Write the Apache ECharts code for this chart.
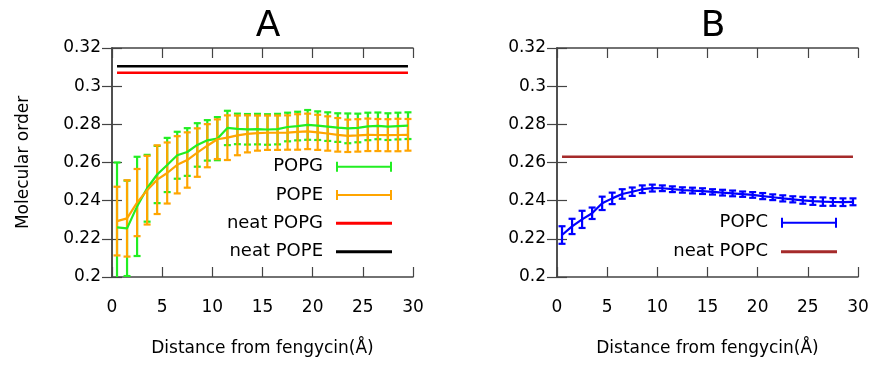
<!DOCTYPE html>
<html><head><meta charset="utf-8">
<script src="https://cdn.jsdelivr.net/npm/echarts@6/dist/echarts.min.js"></script>
<style>html,body{margin:0;padding:0;background:#fff}#c{width:877px;height:365px}</style>
</head><body><div id="c"></div>
<script>
// ---- data ----
const distance = [0.5,1.5,2.5,3.5,4.5,5.5,6.5,7.5,8.5,9.5,10.5,11.5,12.5,13.5,14.5,15.5,16.5,17.5,18.5,19.5,20.5,21.5,22.5,23.5,24.5,25.5,26.5,27.5,28.5,29.5];
const popgMean = [0.226,0.2255,0.237,0.2465,0.2537,0.2587,0.2638,0.2655,0.2692,0.2716,0.2725,0.2781,0.2776,0.2774,0.2775,0.2773,0.2775,0.2786,0.2791,0.2797,0.2793,0.2788,0.2783,0.2779,0.2781,0.2789,0.2792,0.2788,0.2791,0.2793];
const popgErr  = [0.034,0.025,0.026,0.0175,0.015,0.0142,0.0123,0.0125,0.0114,0.0106,0.0113,0.009,0.008,0.008,0.008,0.008,0.008,0.0075,0.0075,0.0078,0.0075,0.0075,0.0075,0.0078,0.0075,0.0072,0.007,0.007,0.007,0.007];
const popeMean = [0.2293,0.2307,0.239,0.2455,0.251,0.2545,0.2588,0.2613,0.2652,0.2688,0.2722,0.273,0.2742,0.275,0.2754,0.2756,0.2756,0.2757,0.276,0.2763,0.2758,0.2752,0.2745,0.274,0.2742,0.2745,0.2744,0.2743,0.2744,0.2745];
const popeErr  = [0.018,0.02,0.0176,0.018,0.018,0.016,0.015,0.0145,0.0127,0.0113,0.0104,0.0117,0.0104,0.0097,0.0092,0.009,0.009,0.009,0.0093,0.0093,0.0092,0.009,0.0088,0.0085,0.0085,0.0085,0.0084,0.0084,0.0085,0.0083];
const popcMean = [0.222,0.2265,0.2302,0.2334,0.2386,0.2412,0.2435,0.2447,0.246,0.2466,0.2465,0.246,0.2456,0.2453,0.245,0.2446,0.2442,0.2438,0.2434,0.243,0.2424,0.2418,0.2412,0.2407,0.2402,0.2398,0.2395,0.2393,0.2392,0.2394];
const popcErr  = [0.0046,0.004,0.0045,0.003,0.0035,0.003,0.0025,0.0022,0.002,0.0018,0.0015,0.0015,0.0014,0.0015,0.0015,0.0014,0.0015,0.0015,0.0014,0.0015,0.0016,0.0015,0.0016,0.0016,0.0018,0.002,0.0022,0.002,0.002,0.0018];
const neatX = [0.5, 29.5];
const neatPOPG = 0.307;
const neatPOPE = 0.3105;
const neatPOPC = 0.263;
const panelTitles = ['A', 'B'];
const xName = 'Distance from fengycin(Å)';
const yName = 'Molecular order';
const xRange = [0, 30, 5];
const yRange = [0.2, 0.32, 0.02];

// ---- styling ----
const FONT = 'DejaVu Sans';
const C = {popg:'#22ee22', pope:'#ffa500', neatG:'#ff0000', neatE:'#000000', popc:'#0000ff', neatC:'#a52a2a'};
const frame = '#444';

function errData(m, e){ return distance.map((x,i)=>[x, m[i], e[i]]); }
function lineData(m){ return distance.map((x,i)=>[x, m[i]]); }
function flatData(v){ return neatX.map(x=>[x, v]); }
function errRender(color){
  return function(params, api){
    const x = api.value(0), y = api.value(1), e = api.value(2);
    const t = api.coord([x, y + e]);
    const b = api.coord([x, y - e]);
    const hw = 3.5;
    const st = {stroke: color, lineWidth: 2.2, fill: null};
    return {type:'group', children:[
      {type:'line', shape:{x1:t[0], y1:t[1], x2:b[0], y2:b[1]}, style:st},
      {type:'line', shape:{x1:t[0]-hw, y1:t[1], x2:t[0]+hw, y2:t[1]}, style:st},
      {type:'line', shape:{x1:b[0]-hw, y1:b[1], x2:b[0]+hw, y2:b[1]}, style:st}
    ]};
  };
}
function xAxes(gi){
  const base = {type:'value', gridIndex:gi, min:xRange[0], max:xRange[1], interval:xRange[2],
    splitLine:{show:false}, axisLine:{lineStyle:{color:frame, width:1.5}},
    axisTick:{inside:true, length:10, lineStyle:{color:frame, width:1.2}}};
  return [
    Object.assign({}, base, {position:'bottom', name: xName, nameLocation:'middle', nameGap:63,
      nameTextStyle:{fontFamily:FONT, fontSize:17, color:'#000'},
      axisLabel:{fontFamily:FONT, fontSize:17, color:'#000', margin:22}}),
    Object.assign({}, base, {position:'top', axisLabel:{show:false}})
  ];
}
function yAxes(gi, showName){
  const base = {type:'value', gridIndex:gi, min:yRange[0], max:yRange[1], interval:yRange[2],
    splitLine:{show:false}, axisLine:{lineStyle:{color:frame, width:1.5}},
    axisTick:{inside:true, length:10, lineStyle:{color:frame, width:1.2}}};
  const left = Object.assign({}, base, {position:'left',
      axisLabel:{fontFamily:FONT, fontSize:17, color:'#000', margin:11}});
  if (showName){
    Object.assign(left, {name:yName, nameLocation:'middle', nameGap:80,
      nameTextStyle:{fontFamily:FONT, fontSize:17, color:'#000'}});
  }
  return [left, Object.assign({}, base, {position:'right', axisLabel:{show:false}})];
}
const ebIcon = 'path://M0,0h2v10h-2z M2,4h52v2h-52z M54,0h2v10h-2z';
function legendRow(name, icon, h, right, center){
  return {show:true, data:[{name:name, icon:icon}], orient:'vertical', align:'right',
    right:right, top:center - 10, padding:0, itemWidth:56, itemHeight:h,
    textStyle:{fontFamily:FONT, fontSize:18, color:'#000', lineHeight:20, padding:[0,8,0,0]},
    selectedMode:false};
}

const chart = echarts.init(document.getElementById('c'), null, {renderer:'canvas'});
chart.setOption({
  animation:false,
  backgroundColor:'#fff',
  title:[
    {text:panelTitles[0], left:263, top:4, textAlign:'center', textStyle:{fontFamily:FONT, fontSize:36, fontWeight:'normal', color:'#000'}},
    {text:panelTitles[1], left:708, top:4, textAlign:'center', textStyle:{fontFamily:FONT, fontSize:36, fontWeight:'normal', color:'#000'}}
  ],
  grid:[
    {left:112, right:464, top:48, bottom:88, show:false},
    {left:557, right:19, top:48, bottom:88, show:false}
  ],
  xAxis: xAxes(0).concat(xAxes(1)),
  yAxis: yAxes(0, true).concat(yAxes(1, false)),
  legend:[
    legendRow('POPG', ebIcon, 10, 485, 166.7),
    legendRow('POPE', ebIcon, 10, 485, 195),
    legendRow('neat POPG', 'rect', 3, 485, 223.3),
    legendRow('neat POPE', 'rect', 3, 485, 251.7),
    legendRow('POPC', ebIcon, 10, 40, 222.7),
    legendRow('neat POPC', 'rect', 3, 40, 251.7)
  ],
  series:[
    {name:'POPG', type:'line', xAxisIndex:0, yAxisIndex:0, data:lineData(popgMean), showSymbol:false, symbol:'none', lineStyle:{color:C.popg, width:2.2}, itemStyle:{color:C.popg}},
    {name:'POPG', type:'custom', xAxisIndex:0, yAxisIndex:0, data:errData(popgMean, popgErr), renderItem:errRender(C.popg), clip:true, itemStyle:{color:C.popg}},
    {name:'POPE', type:'line', xAxisIndex:0, yAxisIndex:0, data:lineData(popeMean), showSymbol:false, symbol:'none', lineStyle:{color:C.pope, width:2.2}, itemStyle:{color:C.pope}},
    {name:'POPE', type:'custom', xAxisIndex:0, yAxisIndex:0, data:errData(popeMean, popeErr), renderItem:errRender(C.pope), clip:true, itemStyle:{color:C.pope}},
    {name:'neat POPG', type:'line', xAxisIndex:0, yAxisIndex:0, data:flatData(neatPOPG), showSymbol:false, symbol:'none', lineStyle:{color:C.neatG, width:2.5}, itemStyle:{color:C.neatG}},
    {name:'neat POPE', type:'line', xAxisIndex:0, yAxisIndex:0, data:flatData(neatPOPE), showSymbol:false, symbol:'none', lineStyle:{color:C.neatE, width:2.5}, itemStyle:{color:C.neatE}},
    {name:'POPC', type:'line', xAxisIndex:2, yAxisIndex:2, data:lineData(popcMean), showSymbol:false, symbol:'none', lineStyle:{color:C.popc, width:2.2}, itemStyle:{color:C.popc}},
    {name:'POPC', type:'custom', xAxisIndex:2, yAxisIndex:2, data:errData(popcMean, popcErr), renderItem:errRender(C.popc), clip:true, itemStyle:{color:C.popc}},
    {name:'neat POPC', type:'line', xAxisIndex:2, yAxisIndex:2, data:flatData(neatPOPC), showSymbol:false, symbol:'none', lineStyle:{color:C.neatC, width:2.5}, itemStyle:{color:C.neatC}}
  ]
});
</script></body></html>
